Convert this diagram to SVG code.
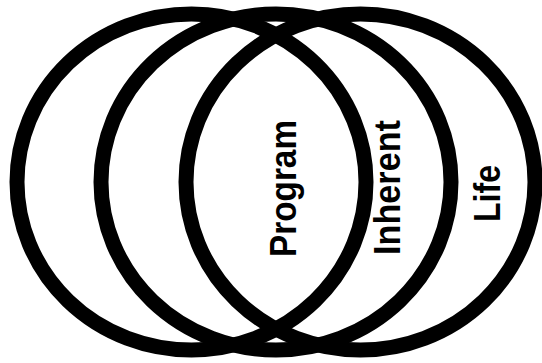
<svg xmlns="http://www.w3.org/2000/svg" width="542" height="363" viewBox="0 0 542 363">
<style>
.ring{fill:none;stroke:#000;stroke-width:15}
.lbl{font-family:"Liberation Sans",Arial,sans-serif;font-weight:bold;font-size:37px;fill:#000;text-anchor:middle}
</style>
<rect width="542" height="363" fill="#fff"/>
<g id="circle-a">
<ellipse class="ring" cx="191.5" cy="182" rx="174.5" ry="168"/>
</g>
<g id="circle-b">
<ellipse class="ring" cx="276" cy="182" rx="175" ry="168"/>
</g>
<g id="circle-c">
<ellipse class="ring" cx="360.5" cy="182" rx="174.5" ry="168"/>
</g>
<g id="label-program">
<text class="lbl" transform="translate(296,188.5) rotate(-90)" textLength="137" lengthAdjust="spacingAndGlyphs">Program</text>
</g>
<g id="label-inherent">
<text class="lbl" transform="translate(400,187.5) rotate(-90)" textLength="135" lengthAdjust="spacingAndGlyphs">Inherent</text>
</g>
<g id="label-life">
<text class="lbl" transform="translate(500,193.5) rotate(-90)" textLength="57" lengthAdjust="spacingAndGlyphs">Life</text>
</g>
</svg>
